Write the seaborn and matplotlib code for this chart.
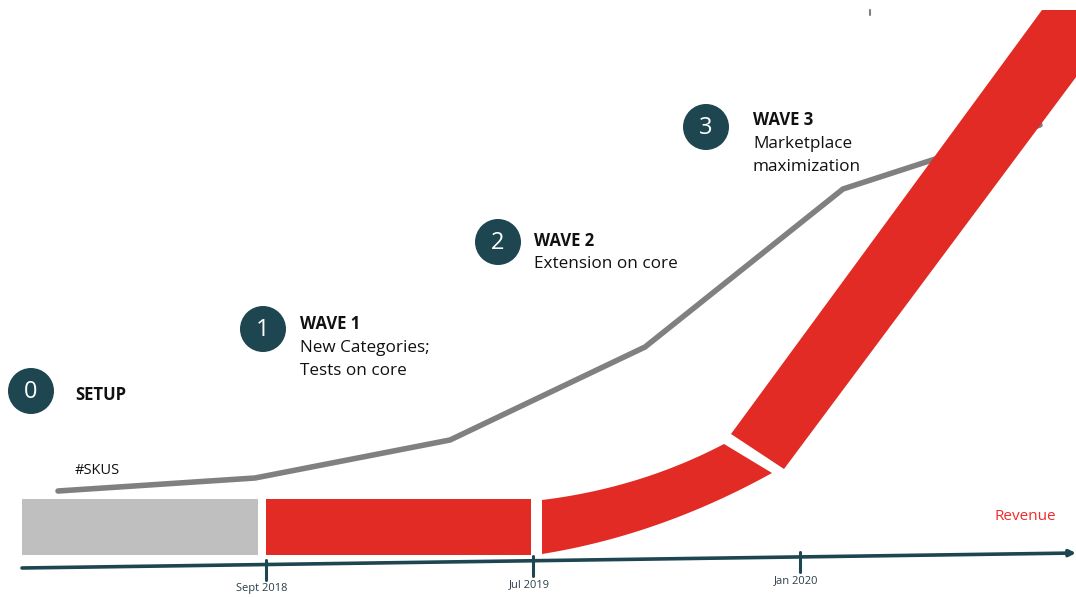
import numpy as np
import pandas as pd
import matplotlib
matplotlib.use("Agg")
import matplotlib.pyplot as plt
import seaborn as sns
from matplotlib.patches import Circle, Polygon, Rectangle

# ---------------- data ----------------
milestone_labels = ["Sept 2018", "Jul 2019", "Jan 2020"]
milestone_x = [266, 533, 800]

sku_x = [58, 255, 450, 645, 843, 1040]
sku_y = [491, 478, 440, 347, 189, 125]

stage_numbers = ["0", "1", "2", "3"]
stage_titles = ["SETUP", "WAVE 1", "WAVE 2", "WAVE 3"]
stage_desc = ["", "New Categories;\nTests on core", "Extension on core", "Marketplace\nmaximization"]
stage_cx = [31, 263, 498, 706]
stage_cy = [391, 329, 242, 127]
title_x = [75, 300, 534, 753]
title_y = [395, 324, 241, 120]

# revenue band segments (left, right, top, bottom)
setup_band = [22, 258, 499, 555]
wave1_band = [266, 531, 499, 555]
curve_upper = [(542, 500), (640, 488), (724, 444)]   # bezier start, control, end
curve_lower = [(542, 554), (660, 535), (772, 473)]
diag_band = [(731, 434), (1042, 10), (1126, 10), (784, 469)]

# ---------------- style ----------------
sns.set_theme(style="white")
plt.rcParams["font.family"] = ["Open Sans", "DejaVu Sans"]

RED = "#e12b24"
GREY_BAR = "#bfbfbf"
TEAL = "#1d4650"
LINE_GREY = "#808080"

fig = plt.figure(figsize=(10.76, 5.97), dpi=100)
ax = fig.add_axes([0, 0, 1, 1])

# bands
ax.add_patch(Rectangle((setup_band[0], setup_band[2]), setup_band[1] - setup_band[0],
                       setup_band[3] - setup_band[2], color=GREY_BAR, lw=0, zorder=2))
ax.add_patch(Rectangle((wave1_band[0], wave1_band[2]), wave1_band[1] - wave1_band[0],
                       wave1_band[3] - wave1_band[2], color=RED, lw=0, zorder=2))


def bezier(pts, n=60):
    p0, p1, p2 = [np.array(p, float) for p in pts]
    t = np.linspace(0, 1, n)[:, None]
    return (1 - t) ** 2 * p0 + 2 * (1 - t) * t * p1 + t ** 2 * p2


up = bezier(curve_upper)
lo = bezier(curve_lower)
ax.add_patch(Polygon(np.vstack([up, lo[::-1]]), closed=True, color=RED, lw=0, zorder=4))
ax.add_patch(Polygon(diag_band, closed=True, color=RED, lw=0, zorder=4))

# SKU line
df = pd.DataFrame({"x": sku_x, "y": sku_y})
sns.lineplot(data=df, x="x", y="y", ax=ax, color=LINE_GREY, linewidth=4.0,
             estimator=None, sort=False, zorder=3)
ax.lines[-1].set_solid_capstyle("round")
ax.lines[-1].set_solid_joinstyle("round")
ax.set_xlim(0, 1076)
ax.set_ylim(597, 0)
ax.axis("off")

# timeline
x0, y0, x1, y1 = 22, 568, 1076, 553
ax.annotate("", xy=(x1, y1), xytext=(x0, y0),
            arrowprops=dict(arrowstyle="-|>", color=TEAL, lw=2.6, mutation_scale=9,
                            shrinkA=0, shrinkB=0), zorder=5)
for lab, mx in zip(milestone_labels, milestone_x):
    ly = y0 + (y1 - y0) * (mx - x0) / (x1 - x0)
    ax.plot([mx, mx], [ly - 5, ly + 15], color=TEAL, lw=2.2, zorder=5)
    ax.text(mx - 4, ly + 24, lab, fontsize=8, color="#2b3f48", ha="center", va="center")

# stage markers
for num, title, desc, cx, cy, tx, ty in zip(stage_numbers, stage_titles, stage_desc,
                                            stage_cx, stage_cy, title_x, title_y):
    ax.add_patch(Circle((cx, cy), 23, color=TEAL, lw=0, zorder=6))
    ax.text(cx, cy + 1, num, color="white", fontsize=17, ha="center", va="center", zorder=7)
    ax.text(tx, ty, title, fontsize=12, fontweight="bold", color="#111111",
            ha="left", va="center", zorder=7)
    for i, line in enumerate(desc.split("\n")):
        if line:
            ax.text(tx, ty + 23.5 * (i + 1), line, fontsize=12.3, color="#111111",
                    ha="left", va="center", zorder=7)

ax.text(75, 470, "#SKUS", fontsize=10.5, color="#111111", ha="left", va="center")
ax.text(995, 516, "Revenue", fontsize=11, color="#f22a2a", ha="left", va="center")
ax.plot([870, 870], [10, 15], color=LINE_GREY, lw=1.5)

fig.savefig("out.png", dpi=100)
